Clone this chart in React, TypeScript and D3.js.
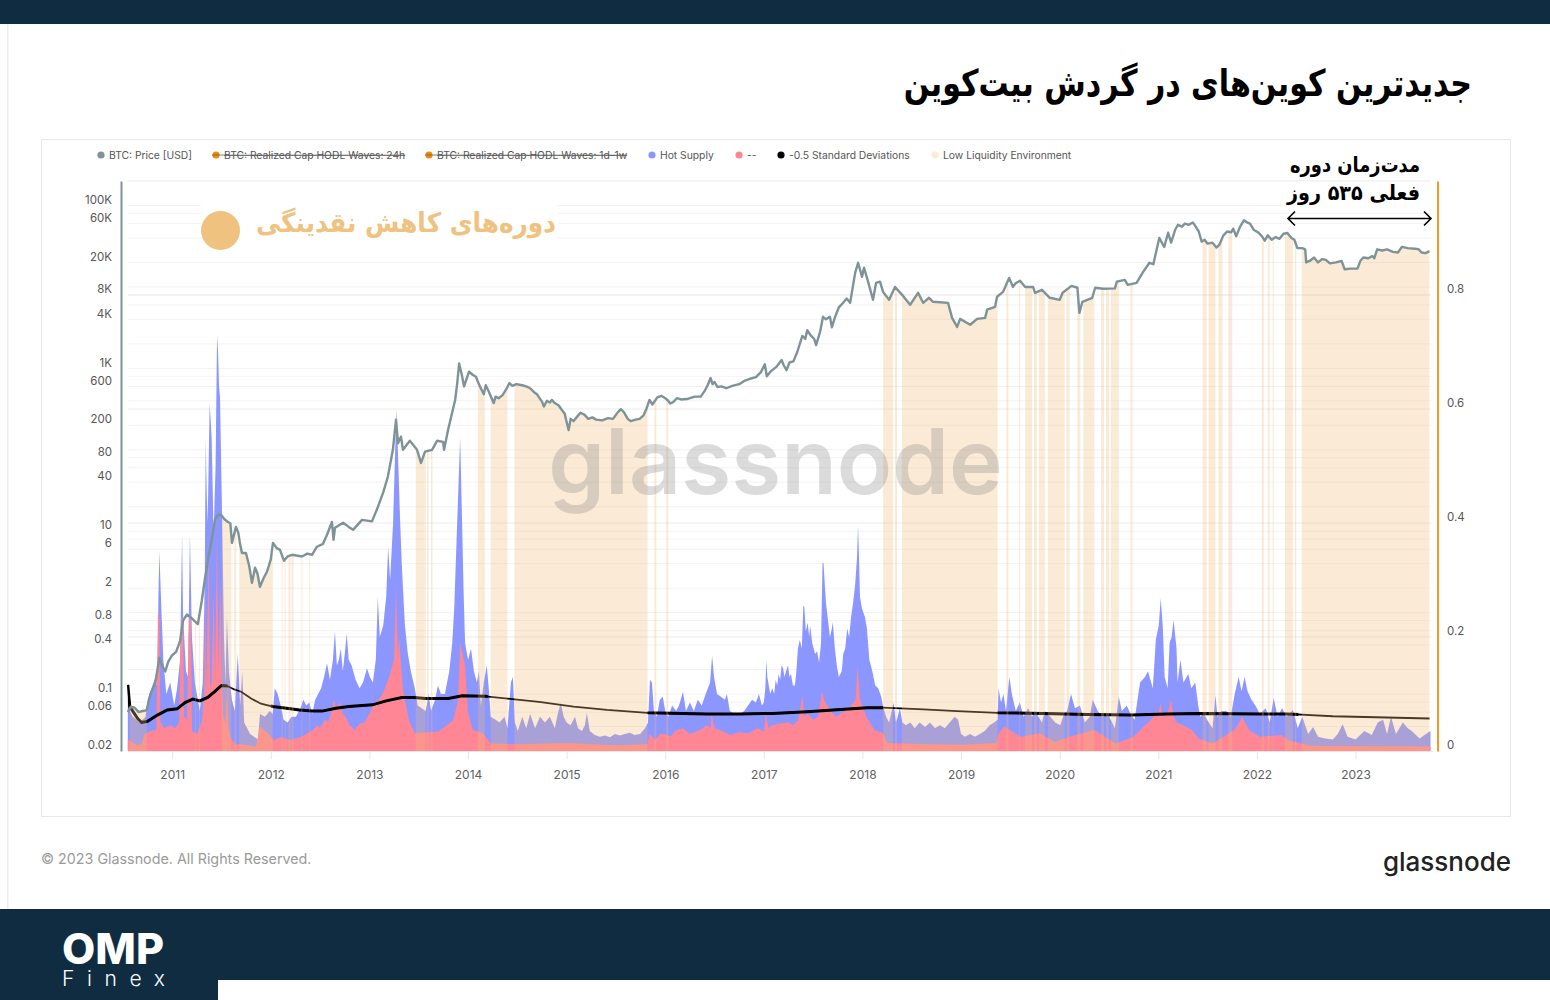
import React, {useEffect, useRef} from "react";
import * as d3 from "d3";

// [decimal year, value] pairs
const hotSupply: [number, number][] = [
    [2010.55,.105],[2010.57,.07],[2010.6,.06],[2010.67,.05],[2010.73,.06],[2010.75,.09],[2010.8,.115],[2010.83,.13],[2010.85,.11],[2010.86,.27],[2010.87,.35],[2010.89,.25],[2010.91,.16],[2010.94,.1],[2010.98,.12],
    [2011.02,.08],[2011.05,.11],[2011.08,.16],[2011.1,.38],[2011.11,.24],[2011.14,.14],[2011.16,.13],[2011.18,.38],[2011.2,.2],[2011.23,.12],[2011.26,.09],[2011.28,.07],[2011.31,.12],[2011.33,.3],[2011.34,.547],[2011.35,.45],[2011.36,.4],[2011.38,.61],[2011.4,.55],[2011.42,.38],[2011.44,.5],[2011.455,.73],[2011.465,.7],[2011.475,.64],[2011.485,.62],[2011.505,.42],[2011.525,.2],[2011.54,.12],[2011.555,.235],[2011.575,.14],[2011.605,.09],[2011.635,.07],[2011.665,.17],[2011.69,.08],[2011.71,.14],[2011.73,.05],[2011.76,.04],[2011.79,.03],[2011.83,.025],[2011.87,.02],[2011.89,.065],[2011.94,.06],[2011.99,.07],
    [2012.02,.065],[2012.04,.11],[2012.07,.1],[2012.1,.08],[2012.13,.055],[2012.17,.05],[2012.21,.06],[2012.255,.06],[2012.3,.075],[2012.33,.09],[2012.36,.08],[2012.39,.085],[2012.42,.065],[2012.45,.09],[2012.48,.1],[2012.51,.11],[2012.54,.13],[2012.57,.154],[2012.6,.125],[2012.63,.16],[2012.65,.21],[2012.67,.15],[2012.69,.16],[2012.71,.18],[2012.73,.14],[2012.75,.17],[2012.77,.206],[2012.79,.16],[2012.82,.15],[2012.86,.125],[2012.9,.11],[2012.935,.12],[2012.975,.145],
    [2013.005,.13],[2013.035,.12],[2013.065,.16],[2013.085,.27],[2013.105,.2],[2013.14,.22],[2013.17,.27],[2013.19,.358],[2013.21,.3],[2013.24,.4],[2013.26,.52],[2013.275,.6],[2013.29,.52],[2013.31,.41],[2013.33,.32],[2013.36,.22],[2013.39,.17],[2013.42,.14],[2013.46,.11],[2013.49,.08],[2013.53,.075],[2013.57,.07],[2013.6,.1],[2013.625,.07],[2013.665,.09],[2013.695,.115],[2013.725,.1],[2013.765,.1],[2013.81,.14],[2013.84,.19],[2013.86,.25],[2013.88,.35],[2013.9,.45],[2013.92,.55],[2013.94,.4],[2013.955,.28],[2013.97,.19],
    [2014.0,.16],[2014.03,.18],[2014.06,.14],[2014.09,.12],[2014.11,.14],[2014.13,.08],[2014.16,.12],[2014.19,.15],[2014.21,.11],[2014.23,.06],[2014.28,.055],[2014.32,.05],[2014.37,.06],[2014.4,.04],[2014.435,.12],[2014.455,.13],[2014.475,.05],[2014.505,.035],[2014.55,.06],[2014.59,.04],[2014.63,.065],[2014.68,.04],[2014.73,.06],[2014.78,.05],[2014.83,.06],[2014.88,.04],[2014.91,.065],[2014.94,.084],[2014.97,.06],
    [2015.0,.05],[2015.04,.045],[2015.085,.06],[2015.115,.04],[2015.155,.035],[2015.185,.045],[2015.205,.067],[2015.235,.035],[2015.285,.028],[2015.335,.025],[2015.39,.027],[2015.44,.024],[2015.49,.03],[2015.54,.027],[2015.59,.03],[2015.64,.032],[2015.69,.028],[2015.745,.03],[2015.795,.04],[2015.825,.05],[2015.845,.125],[2015.865,.12],[2015.885,.07],[2015.915,.06],[2015.945,.09],[2015.975,.095],
    [2016.0,.07],[2016.03,.06],[2016.07,.08],[2016.11,.07],[2016.14,.08],[2016.18,.104],[2016.21,.07],[2016.25,.085],[2016.29,.07],[2016.33,.09],[2016.37,.08],[2016.41,.1],[2016.455,.12],[2016.475,.167],[2016.495,.13],[2016.525,.1],[2016.565,.095],[2016.605,.09],[2016.625,.1],[2016.655,.07],[2016.705,.065],[2016.76,.065],[2016.8,.07],[2016.84,.08],[2016.88,.09],[2016.92,.085],[2016.95,.1],[2016.98,.08],
    [2017.0,.085],[2017.015,.11],[2017.025,.16],[2017.035,.13],[2017.045,.12],[2017.065,.1],[2017.085,.11],[2017.105,.1],[2017.12,.125],[2017.135,.115],[2017.15,.135],[2017.165,.125],[2017.18,.15],[2017.195,.145],[2017.21,.13],[2017.225,.14],[2017.245,.15],[2017.26,.13],[2017.275,.135],[2017.295,.115],[2017.315,.115],[2017.33,.14],[2017.345,.18],[2017.365,.195],[2017.385,.18],[2017.4,.254],[2017.41,.254],[2017.425,.21],[2017.445,.225],[2017.46,.2],[2017.47,.22],[2017.49,.19],[2017.52,.17],[2017.54,.175],[2017.56,.155],[2017.58,.19],[2017.595,.33],[2017.605,.33],[2017.615,.3],[2017.63,.26],[2017.65,.23],[2017.67,.2],[2017.69,.215],[2017.7,.226],[2017.72,.18],[2017.74,.15],[2017.76,.13],[2017.79,.14],[2017.805,.17],[2017.825,.18],[2017.845,.215],[2017.865,.2],[2017.885,.235],[2017.905,.26],[2017.925,.29],[2017.945,.34],[2017.955,.395],[2017.965,.34],[2017.975,.27],[2017.995,.25],
    [2018.025,.235],[2018.045,.215],[2018.07,.16],[2018.1,.14],[2018.13,.115],[2018.16,.11],[2018.19,.095],[2018.21,.077],[2018.24,.06],[2018.27,.05],[2018.29,.065],[2018.315,.085],[2018.34,.05],[2018.38,.075],[2018.405,.05],[2018.44,.045],[2018.485,.05],[2018.53,.04],[2018.58,.05],[2018.635,.042],[2018.685,.05],[2018.735,.04],[2018.785,.045],[2018.835,.04],[2018.885,.05],[2018.935,.06],[2018.97,.055],
    [2019.0,.03],[2019.04,.025],[2019.09,.03],[2019.14,.025],[2019.19,.03],[2019.24,.035],[2019.29,.045],[2019.335,.05],[2019.37,.055],[2019.38,.11],[2019.405,.085],[2019.43,.1],[2019.455,.07],[2019.49,.13],[2019.515,.1],[2019.555,.07],[2019.595,.085],[2019.635,.06],[2019.68,.075],[2019.72,.06],[2019.75,.07],[2019.82,.05],[2019.85,.07],[2019.905,.06],[2019.955,.05],
    [2020.005,.045],[2020.045,.065],[2020.075,.07],[2020.115,.1],[2020.155,.075],[2020.205,.08],[2020.255,.05],[2020.305,.06],[2020.335,.09],[2020.385,.07],[2020.435,.06],[2020.49,.065],[2020.56,.04],[2020.6,.095],[2020.63,.07],[2020.68,.08],[2020.72,.065],[2020.76,.055],[2020.815,.12],[2020.865,.13],[2020.895,.14],[2020.945,.11],[2020.975,.195],
    [2021.005,.22],[2021.025,.268],[2021.045,.22],[2021.065,.13],[2021.095,.11],[2021.115,.19],[2021.135,.2],[2021.155,.23],[2021.185,.18],[2021.195,.12],[2021.225,.16],[2021.255,.12],[2021.305,.135],[2021.335,.11],[2021.375,.12],[2021.405,.08],[2021.425,.06],[2021.465,.065],[2021.495,.055],[2021.55,.04],[2021.58,.098],[2021.6,.06],[2021.64,.07],[2021.69,.07],[2021.735,.06],[2021.775,.1],[2021.815,.13],[2021.845,.105],[2021.875,.13],[2021.905,.105],[2021.945,.09],[2021.985,.08],
    [2022.03,.065],[2022.09,.075],[2022.13,.05],[2022.17,.093],[2022.21,.06],[2022.255,.075],[2022.3,.06],[2022.365,.072],[2022.415,.04],[2022.46,.06],[2022.52,.03],[2022.57,.042],[2022.62,.025],[2022.69,.022],[2022.77,.02],[2022.82,.03],[2022.87,.047],[2022.92,.025],
    [2023.0,.02],[2023.09,.035],[2023.165,.028],[2023.225,.05],[2023.28,.055],[2023.32,.03],[2023.36,.06],[2023.41,.03],[2023.48,.05],[2023.53,.04],[2023.57,.035],[2023.65,.022],[2023.7,.028],[2023.76,.035],
]

const pinkSeries: [number, number][] = [
    [2010.55,.02],[2010.6,.015],[2010.65,.01],[2010.69,.012],[2010.72,.03],[2010.78,.035],[2010.84,.037],[2010.855,.24],[2010.87,.24],[2010.88,.05],[2010.92,.04],[2010.98,.045],[2011.03,.04],[2011.07,.05],[2011.09,.233],[2011.11,.233],[2011.12,.06],[2011.15,.055],[2011.17,.233],[2011.19,.233],[2011.2,.035],[2011.25,.03],[2011.3,.05],[2011.325,.1],[2011.335,.277],[2011.345,.1],[2011.37,.35],[2011.385,.11],[2011.4,.12],[2011.42,.28],[2011.435,.12],[2011.455,.38],[2011.47,.14],[2011.49,.3],[2011.505,.12],[2011.52,.06],[2011.54,.05],[2011.56,.12],[2011.57,.04],[2011.6,.02],[2011.65,.012],[2011.7,.012],[2011.85,.008],[2011.89,.043],[2011.97,.031],[2012.03,.019],[2012.1,.025],[2012.2,.019],[2012.31,.025],[2012.43,.037],[2012.47,.045],[2012.5,.04],[2012.55,.055],[2012.58,.05],[2012.61,.065],[2012.64,.09],[2012.66,.075],[2012.7,.085],[2012.73,.065],[2012.76,.06],[2012.8,.045],[2012.85,.037],[2012.9,.048],[2012.95,.05],[2013.0,.065],[2013.05,.085],[2013.1,.09],[2013.15,.107],[2013.2,.13],[2013.25,.16],[2013.27,.29],[2013.29,.16],[2013.3,.2],[2013.34,.107],[2013.4,.054],[2013.46,.031],[2013.7,.034],[2013.85,.054],[2013.9,.09],[2013.92,.19],[2013.97,.15],[2014.0,.066],[2014.05,.037],[2014.15,.031],[2014.23,.013],
    [2014.5,.012],[2015.0,.014],[2015.5,.01],[2015.82,.012],[2015.84,.03],[2015.9,.02],[2015.95,.03],[2016.0,.03],[2016.05,.025],[2016.1,.035],[2016.18,.04],[2016.25,.03],[2016.35,.037],[2016.42,.045],[2016.46,.04],[2016.47,.065],[2016.5,.04],[2016.58,.035],[2016.66,.028],[2016.75,.033],[2016.85,.031],[2016.93,.04],[2017.0,.034],[2017.02,.065],[2017.05,.04],[2017.08,.045],[2017.15,.048],[2017.25,.05],[2017.3,.045],[2017.35,.054],[2017.39,.098],[2017.41,.06],[2017.44,.066],[2017.5,.055],[2017.55,.06],[2017.59,.104],[2017.62,.085],[2017.68,.07],[2017.73,.06],[2017.78,.066],[2017.83,.07],[2017.88,.078],[2017.93,.09],[2017.95,.15],[2017.975,.09],[2018.04,.06],[2018.12,.037],[2018.21,.031],[2018.25,.014],[2018.7,.012],[2019.0,.011],[2019.36,.014],[2019.38,.031],[2019.44,.043],[2019.6,.025],[2019.8,.031],[2019.95,.016],[2020.1,.025],[2020.35,.037],[2020.57,.013],[2020.75,.025],[2020.85,.043],[2020.9,.05],[2020.95,.06],[2020.98,.07],[2021.0,.06],[2021.02,.086],[2021.04,.065],[2021.06,.06],[2021.1,.07],[2021.13,.09],[2021.15,.065],[2021.18,.05],[2021.25,.045],[2021.34,.037],[2021.41,.022],[2021.55,.013],[2021.77,.037],[2021.82,.05],[2021.85,.06],[2021.92,.037],[2022.03,.025],[2022.25,.028],[2022.32,.019],[2022.55,.009],[2023.76,.008],
]

const sdLine: [number, number][] = [
    [2010.55,.116],[2010.57,.077],[2010.58,.075],[2010.65,.057],[2010.69,.05],[2010.75,.052],[2010.85,.063],[2010.95,.072],[2011.05,.074],[2011.13,.085],[2011.21,.091],[2011.28,.088],[2011.36,.094],[2011.43,.104],[2011.5,.115],[2011.56,.114],[2011.63,.108],[2011.7,.104],[2011.8,.092],[2011.9,.083],[2012.02,.078],[2012.16,.075],[2012.29,.072],[2012.42,.07],[2012.52,.07],[2012.66,.075],[2012.79,.078],[2013.03,.081],[2013.17,.088],[2013.33,.094],[2013.45,.094],[2013.57,.092],[2013.8,.092],[2013.94,.097],[2014.18,.096],[2014.45,.091],[2014.72,.086],[2015.07,.078],[2015.41,.072],[2015.82,.067],[2016.42,.065],[2016.76,.065],[2017.09,.066],[2017.44,.069],[2017.78,.073],[2018.05,.076],[2018.21,.076],[2018.62,.073],[2018.96,.07],[2019.37,.067],[2019.83,.066],[2020.28,.064],[2020.72,.063],[2021.09,.065],[2021.42,.066],[2022.03,.065],[2022.3,.065],[2022.77,.061],[2023.75,.057],
]
// spans of the deviation line that are drawn heavy
const sdHeavySpans: [number, number][] = [[2010.55, 2011.56], [2012.0, 2014.2], [2015.82, 2018.21], [2019.37, 2022.42]]

const btcPrice: [number, number][] = [
    [2010.55,.06],[2010.58,.07],[2010.62,.068],[2010.66,.06],[2010.7,.062],[2010.74,.063],[2010.78,.1],[2010.83,.14],[2010.87,.28],[2010.9,.22],[2010.93,.19],[2010.96,.25],[2011.0,.3],[2011.04,.33],[2011.08,.45],[2011.11,.8],[2011.15,.95],[2011.2,.85],[2011.26,.72],[2011.3,1.4],[2011.33,2.5],[2011.37,5],[2011.41,9],[2011.434,14],[2011.465,16],[2011.495,15.9],[2011.53,14],[2011.566,13],[2011.59,12.5],[2011.606,7.2],[2011.647,11.3],[2011.67,9.6],[2011.688,7],[2011.708,5.4],[2011.748,5.4],[2011.78,3.8],[2011.809,2.33],[2011.84,3.56],[2011.865,3],[2011.89,2.08],[2011.93,2.7],[2011.961,3.18],[2012.0,4.5],[2012.012,5.9],[2012.022,7.2],[2012.06,6.2],[2012.093,5.9],[2012.134,4.34],[2012.17,4.9],[2012.215,5.14],[2012.316,4.9],[2012.37,5.3],[2012.418,5.14],[2012.468,6.45],[2012.53,7],[2012.57,9.05],[2012.62,13],[2012.636,7.85],[2012.651,11],[2012.733,12.7],[2012.79,11.3],[2012.834,10.4],[2012.925,13.8],[2013.026,13.2],[2013.087,20],[2013.14,30],[2013.187,46.7],[2013.238,100],[2013.27,234],[2013.29,120],[2013.32,145],[2013.34,100],[2013.41,129],[2013.483,100],[2013.523,69],[2013.564,95],[2013.635,100],[2013.686,129],[2013.747,125],[2013.757,100],[2013.798,176],[2013.87,412],[2013.89,650],[2013.91,1150],[2013.94,800],[2013.96,600],
    [2014.01,910],[2014.05,830],[2014.08,790],[2014.11,640],[2014.14,540],[2014.16,480],[2014.18,620],[2014.21,520],[2014.26,375],[2014.28,450],[2014.31,430],[2014.35,470],[2014.39,560],[2014.42,660],[2014.45,610],[2014.49,640],[2014.55,620],[2014.59,600],[2014.63,570],[2014.67,510],[2014.7,480],[2014.72,440],[2014.75,390],[2014.77,340],[2014.8,400],[2014.83,380],[2014.85,410],[2014.88,375],[2014.92,350],[2014.95,310],[2014.98,280],[2015.0,220],[2015.02,175],[2015.04,240],[2015.07,225],[2015.1,250],[2015.14,285],[2015.18,270],[2015.22,240],[2015.26,250],[2015.3,235],[2015.36,230],[2015.42,245],[2015.47,240],[2015.52,290],[2015.55,315],[2015.58,290],[2015.62,240],[2015.65,225],[2015.7,235],[2015.74,240],[2015.78,265],[2015.81,320],[2015.84,410],[2015.87,360],[2015.92,440],[2015.96,460],
    [2016.0,430],[2016.03,400],[2016.05,370],[2016.08,385],[2016.12,430],[2016.16,415],[2016.22,420],[2016.3,450],[2016.36,450],[2016.4,530],[2016.43,620],[2016.46,760],[2016.48,640],[2016.5,680],[2016.53,590],[2016.57,600],[2016.62,570],[2016.68,610],[2016.75,640],[2016.8,700],[2016.86,745],[2016.92,780],[2016.97,900],[2017.01,1120],[2017.03,800],[2017.07,920],[2017.13,1050],[2017.18,1270],[2017.2,1100],[2017.23,950],[2017.26,1180],[2017.3,1220],[2017.34,1600],[2017.39,2500],[2017.42,2300],[2017.44,2950],[2017.48,2500],[2017.51,2300],[2017.53,1930],[2017.57,2800],[2017.6,4300],[2017.63,4000],[2017.67,4300],[2017.69,3200],[2017.72,4200],[2017.76,5600],[2017.8,6300],[2017.84,7200],[2017.875,6380],[2017.926,14900],[2017.956,19800],[2017.996,13300],[2018.016,17200],[2018.057,11600],[2018.107,6950],[2018.138,11200],[2018.178,11600],[2018.209,8700],[2018.27,6950],[2018.33,10000],[2018.402,8000],[2018.483,6030],[2018.564,8470],[2018.615,6380],[2018.675,7360],[2018.716,6570],[2018.868,6380],[2018.909,4170],[2018.96,3230],[2018.99,4050],[2019.092,3430],[2019.163,4050],[2019.244,4170],[2019.264,5250],[2019.345,5700],[2019.365,7570],[2019.426,8700],[2019.487,12900],[2019.527,10000],[2019.55,11000],[2019.598,11900],[2019.65,10000],[2019.73,10000],[2019.75,8470],[2019.82,9220],[2019.9,7360],[2020.0,6950],[2020.03,8470],[2020.12,10300],[2020.18,9770],[2020.2,4800],[2020.23,6570],[2020.33,7360],[2020.36,9770],[2020.44,9500],[2020.56,9600],[2020.58,11600],[2020.66,12200],[2020.69,10600],[2020.78,11200],[2020.84,14900],[2020.91,19800],[2020.95,19000],[2021.01,40000],[2021.06,30900],[2021.1,46300],
    [2021.13,35000],[2021.17,50000],[2021.2,58000],[2021.24,55000],[2021.27,60000],[2021.31,58000],[2021.35,62000],[2021.38,55000],[2021.41,48000],[2021.44,36000],[2021.47,38000],[2021.5,34000],[2021.55,35000],[2021.59,30500],[2021.62,33000],[2021.66,43000],[2021.7,48000],[2021.74,47000],[2021.76,52000],[2021.79,42000],[2021.83,55000],[2021.87,66000],[2021.9,62000],[2021.93,60000],[2021.97,50000],[2022.01,47000],[2022.05,42000],[2022.08,37000],[2022.11,43000],[2022.15,38000],[2022.19,41000],[2022.23,39000],[2022.27,45000],[2022.31,46000],[2022.35,40000],[2022.38,38000],[2022.41,30000],[2022.46,30000],[2022.49,29000],[2022.5,20000],[2022.54,21000],[2022.58,23000],[2022.62,20000],[2022.66,22000],[2022.7,21500],[2022.74,19500],[2022.8,20000],[2022.86,20800],[2022.89,16500],[2022.95,16800],[2023.02,16800],[2023.05,21000],[2023.08,23000],[2023.13,22500],[2023.17,24000],[2023.19,22500],[2023.22,29000],[2023.27,28000],[2023.32,29000],[2023.38,27000],[2023.43,26500],[2023.47,31000],[2023.53,30000],[2023.6,29500],[2023.64,29000],[2023.67,26500],[2023.71,26000],[2023.75,27500],
]

const lowLiquidityBands: [number, number][] = [
    [2010.57,2010.74],[2011.23,2011.24],[2011.27,2011.28],[2011.505,2011.6],[2011.63,2011.65],[2011.68,2012.02],[2012.11,2012.12],[2012.14,2012.15],[2012.18,2012.2],[2012.21,2012.23],[2012.31,2012.32],[2012.39,2012.4],
    [2013.47,2013.57],[2013.585,2013.6],[2013.625,2013.64],[2014.1,2014.17],[2014.23,2014.4],[2014.47,2015.82],[2015.89,2015.91],[2016.01,2016.03],
    [2018.21,2018.31],[2018.33,2018.35],[2018.4,2019.37],[2019.46,2019.48],[2019.59,2019.6],[2019.65,2019.72],[2019.74,2019.77],[2019.79,2019.85],[2019.88,2020.05],[2020.07,2020.1],[2020.18,2020.21],[2020.24,2020.35],[2020.42,2020.45],[2020.47,2020.5],[2020.52,2020.6],[2020.72,2020.74],
    [2021.45,2021.49],[2021.51,2021.58],[2021.61,2021.65],[2021.71,2021.75],[2022.05,2022.07],[2022.11,2022.13],[2022.16,2022.17],[2022.285,2022.365],[2022.385,2022.4],[2022.455,2023.76],
]

const yearTicks = [2011, 2012, 2013, 2014, 2015, 2016, 2017, 2018, 2019, 2020, 2021, 2022, 2023]
const priceTicks = [100000, 60000, 20000, 8000, 4000, 1000, 600, 200, 80, 40, 10, 6, 2, 0.8, 0.4, 0.1, 0.06, 0.02]
const priceGrid = [100000, 80000, 60000, 40000, 20000, 10000, 8000, 6000, 4000, 2000, 1000, 800, 600, 400, 200, 100, 80, 60, 40, 20, 10, 8, 6, 4, 2, 1, 0.8, 0.6, 0.4, 0.2, 0.1, 0.08, 0.06, 0.04]
const ratioTicks = [0, 0.2, 0.4, 0.6, 0.8]
const ratioGrid = [0.2, 0.4, 0.6, 0.8, 1]

const legendLabels = ["BTC: Price [USD]", "BTC: Realized Cap HODL Waves: 24h", "BTC: Realized Cap HODL Waves: 1d-1w", "Hot Supply", "--", "-0.5 Standard Deviations", "Low Liquidity Environment"]
const legendColors = ["#7d9397", "#f28a00", "#f28a00", "#8c96ff", "#ff8795", "#000000", "#faecd8"]
const legendStruck = [false, true, true, false, false, false, false]
const legendDotX = [101, 216, 429, 652, 739, 781, 935]

const titleText = "جدیدترین کوین‌های در گردش بیت‌کوین"
const calloutText = "دوره‌های کاهش نقدینگی"
const durationLines = ["مدت‌زمان دوره", "فعلی ۵۳۵ روز"]
const durationWidths = [130, 133]

const NAVY = "#0f2c41"
const FA_FONT = "'DejaVu Sans', sans-serif"
const UI_FONT = "Inter, sans-serif"

const App = () => {
    const svgRef = useRef<SVGSVGElement | null>(null)

    useEffect(() => {
        const svg = d3.select(svgRef.current)
        svg.selectAll("*").remove()

        const top = 181
        const bottom = 751
        const left = 128
        const right = 1431

        const xScale = d3.scaleLinear().domain([2011, 2023]).range([172.2, 1355.5])
        const yPrice = d3.scaleLog().domain([0.02, 200000]).range([bottom, top])
        const yRatio = d3.scaleLinear().domain([0, 1]).range([bottom, top])

        const frame = svg.append("g")
        frame.append("rect").attr("width", 1550).attr("height", 1000).attr("fill", "#fff")
        frame.append("rect").attr("width", 1550).attr("height", 24).attr("fill", NAVY)
        frame.append("rect").attr("x", 7).attr("y", 24).attr("width", 1.5).attr("height", 885).attr("fill", "#ececec")
        frame.append("rect").attr("x", 41.5).attr("y", 139.5).attr("width", 1469).attr("height", 677)
            .attr("fill", "#fff").attr("stroke", "#e9e9e9")
        frame.append("rect").attr("y", 909).attr("width", 1550).attr("height", 91).attr("fill", NAVY)
        frame.append("rect").attr("x", 218).attr("y", 980).attr("width", 1332).attr("height", 20).attr("fill", "#fff")

        // DejaVu runs wider than the original face, so the title is squeezed to fit
        frame.append("text").text(titleText)
            .attr("transform", "translate(1472,96) scale(0.813,1)")
            .attr("font-family", FA_FONT).attr("font-weight", 700).attr("font-size", 37)
            .attr("direction", "rtl").attr("fill", "#000")

        frame.append("text").text("© 2023 Glassnode. All Rights Reserved.")
            .attr("x", 41).attr("y", 864).attr("font-family", UI_FONT).attr("font-size", 14.3).attr("fill", "#9a9a9a")
        frame.append("text").text("glassnode")
            .attr("x", 1511).attr("y", 871).attr("text-anchor", "end")
            .attr("font-family", UI_FONT).attr("font-weight", 500).attr("font-size", 26).attr("fill", "#222")
        frame.append("text").text("OMP")
            .attr("x", 62).attr("y", 964).attr("font-family", UI_FONT).attr("font-weight", 800).attr("font-size", 42).attr("fill", "#fff")
            .attr("textLength", 102).attr("lengthAdjust", "spacingAndGlyphs")
        frame.append("text").text("Finex")
            .attr("x", 62).attr("y", 986).attr("font-family", UI_FONT).attr("font-weight", 300).attr("font-size", 21)
            .attr("letter-spacing", 12.6).attr("fill", "#fff")

        // grid
        const grid = svg.append("g")
        grid.selectAll(".price-grid").data(priceGrid).join("line")
            .attr("class", "price-grid")
            .attr("x1", left).attr("x2", right)
            .attr("y1", d => yPrice(d)).attr("y2", d => yPrice(d))
            .attr("stroke", "#f3f3f3")
        grid.selectAll(".ratio-grid").data(ratioGrid).join("line")
            .attr("class", "ratio-grid")
            .attr("x1", left).attr("x2", right)
            .attr("y1", d => yRatio(d)).attr("y2", d => yRatio(d))
            .attr("stroke", "#ebebeb")

        const hotArea = d3.area<[number, number]>()
            .x(d => xScale(d[0])).y0(bottom).y1(d => yRatio(d[1]))
        svg.append("path").attr("d", hotArea(hotSupply)).attr("fill", "#8c96ff")
        svg.append("path").attr("d", hotArea(pinkSeries)).attr("fill", "#ff8795")

        const defs = svg.append("defs")

        defs.append("clipPath").attr("id", "sd-heavy")
            .selectAll("rect").data(sdHeavySpans).join("rect")
            .attr("x", d => xScale(d[0])).attr("width", d => xScale(d[1]) - xScale(d[0]))
            .attr("y", top).attr("height", bottom - top)

        const sdPath = d3.line<[number, number]>().x(d => xScale(d[0])).y(d => yRatio(d[1]))
        svg.append("path").attr("d", sdPath(sdLine)).attr("fill", "none").attr("stroke", "#000").attr("stroke-width", 1.8)
        svg.append("path").attr("d", sdPath(sdLine)).attr("fill", "none").attr("stroke", "#000").attr("stroke-width", 3)
            .attr("clip-path", "url(#sd-heavy)")

        // the bands only reach up to the price line
        const priceArea = d3.area<[number, number]>()
            .x(d => xScale(d[0])).y0(bottom).y1(d => yPrice(d[1]))
        defs.append("clipPath").attr("id", "under-price").append("path").attr("d", priceArea(btcPrice))

        svg.append("g").attr("clip-path", "url(#under-price)")
            .selectAll("rect").data(lowLiquidityBands).join("rect")
            .attr("x", d => xScale(d[0]))
            .attr("width", d => xScale(d[1]) - xScale(d[0]))
            .attr("y", top).attr("height", bottom - top)
            .attr("fill", "rgb(238,185,118)").attr("opacity", 0.3)

        svg.append("text").text("glassnode")
            .attr("x", 775.5).attr("y", 494).attr("text-anchor", "middle")
            .attr("font-family", UI_FONT).attr("font-weight", 600).attr("font-size", 91)
            .attr("fill", "#808080").attr("opacity", 0.28)

        const pricePath = d3.line<[number, number]>().x(d => xScale(d[0])).y(d => yPrice(d[1]))
        svg.append("path").attr("d", pricePath(btcPrice)).attr("fill", "none")
            .attr("stroke", "#7d9397").attr("stroke-width", 2.4).attr("stroke-linejoin", "round")

        // axes
        const xAxis = d3.axisBottom(xScale).tickValues(yearTicks).tickFormat(d3.format("d") as any).tickSize(8).tickPadding(11).tickSizeOuter(0)
        const xG = svg.append("g").attr("transform", `translate(0,${bottom})`).call(xAxis)
        xG.select(".domain").remove()
        svg.append("line").attr("x1", left).attr("x2", right + 2).attr("y1", bottom + 0.5).attr("y2", bottom + 0.5).attr("stroke", "#e6e6e6")
        xG.selectAll(".tick line").attr("stroke", "#e6e6e6")
        xG.selectAll("text").attr("font-family", UI_FONT).attr("font-size", 12).attr("fill", "#5f5f5f")

        const priceLabel = (v: number) => v >= 1000 ? `${v / 1000}K` : `${v}`
        const leftAxis = d3.axisLeft(yPrice).tickValues(priceTicks).tickFormat(priceLabel as any).tickSize(0).tickPadding(9).tickSizeOuter(0)
        const leftG = svg.append("g").attr("transform", "translate(121,0)").call(leftAxis)
        leftG.select(".domain").attr("stroke", "#7d9397").attr("stroke-width", 2)
        leftG.selectAll("text").attr("font-family", UI_FONT).attr("font-size", 11.5).attr("fill", "#555").attr("dy", "-0.2em")

        const rightAxis = d3.axisRight(yRatio).tickValues(ratioTicks).tickFormat(d3.format("~g") as any).tickSize(0).tickPadding(9.5).tickSizeOuter(0)
        const rightG = svg.append("g").attr("transform", "translate(1437.5,0)").call(rightAxis)
        rightG.select(".domain").attr("stroke", "#f7982a").attr("stroke-width", 2)
        rightG.selectAll("text").attr("font-family", UI_FONT).attr("font-size", 11.5).attr("fill", "#555").attr("dy", "-0.2em")

        // legend
        const legend = svg.append("g").selectAll("g").data(legendLabels).join("g")
            .attr("transform", (_, i) => `translate(${legendDotX[i]},155)`)
        legend.append("circle").attr("r", 3.6).attr("fill", (_, i) => legendColors[i])
        legend.append("text").text(d => d)
            .attr("x", 8).attr("dy", "0.35em")
            .attr("font-family", UI_FONT).attr("font-size", 10.3).attr("fill", "#555")
            .attr("text-decoration", (_, i) => legendStruck[i] ? "line-through" : "none")
        legend.filter((_, i) => legendStruck[i]).append("line")
            .attr("x1", -4).attr("x2", 8).attr("stroke", "#666").attr("stroke-width", 0.8)

        // callout over the top left of the plot
        svg.append("rect").attr("x", 201).attr("y", 205).attr("width", 357).attr("height", 36).attr("fill", "#fff")
        svg.append("circle").attr("cx", 220.5).attr("cy", 230.5).attr("r", 19.5).attr("fill", "#efc27f")
        svg.append("text").text(calloutText)
            .attr("x", 556).attr("y", 232)
            .attr("font-family", FA_FONT).attr("font-weight", 700).attr("font-size", 27)
            .attr("direction", "rtl").attr("fill", "#efc27f")
            .attr("textLength", 300).attr("lengthAdjust", "spacingAndGlyphs")

        // current period note
        svg.append("rect").attr("x", 1282).attr("y", 182).attr("width", 149).attr("height", 26).attr("fill", "#fff")
        svg.selectAll(".duration").data(durationLines).join("text")
            .attr("class", "duration").text(d => d)
            .attr("x", 1420).attr("y", (_, i) => 172 + i * 28)
            .attr("font-family", FA_FONT).attr("font-weight", 700).attr("font-size", 21)
            .attr("direction", "rtl").attr("fill", "#000")
            .attr("textLength", (_, i) => durationWidths[i]).attr("lengthAdjust", "spacingAndGlyphs")

        const arrow = d3.path()
        arrow.moveTo(1295, 211.5); arrow.lineTo(1288, 218.5); arrow.lineTo(1295, 225.5)
        arrow.moveTo(1288, 218.5); arrow.lineTo(1431, 218.5)
        arrow.moveTo(1424, 211.5); arrow.lineTo(1431, 218.5); arrow.lineTo(1424, 225.5)
        svg.append("path").attr("d", arrow.toString()).attr("fill", "none").attr("stroke", "#000").attr("stroke-width", 1.6)
    }, [])

    return (
        <svg ref={svgRef} width={1550} height={1000} style={{position: "absolute", top: 0, left: 0}}/>
    );
};

export default App;
